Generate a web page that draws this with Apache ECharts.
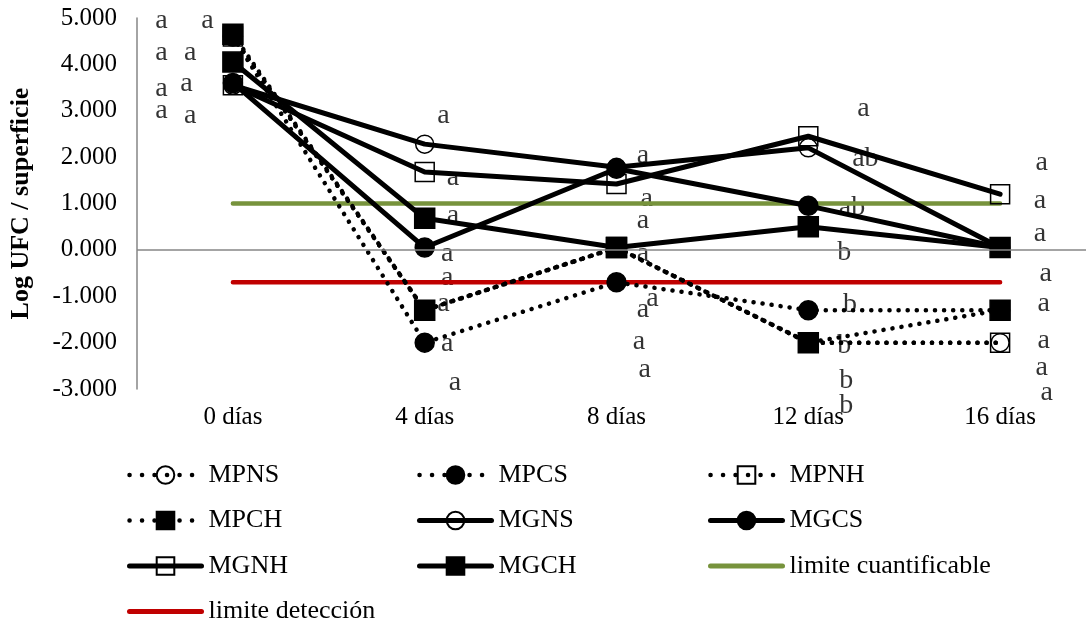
<!DOCTYPE html>
<html>
<head>
<meta charset="utf-8">
<script src="https://cdn.jsdelivr.net/npm/echarts@6/dist/echarts.min.js"></script>
<style>
  html, body { margin: 0; padding: 0; background: #fff; }
  #chart { width: 1086px; height: 625px; }
</style>
</head>
<body>
<div id="chart"></div>
<script>
// Sampling days
const days = ['0 días', '4 días', '8 días', '12 días', '16 días'];

// Log UFC / superficie per treatment
const MPNS = [4.60, -1.30, 0.05, -2.00, -2.00];
const MPCS = [4.60, -2.00, -0.70, -1.30, -1.30];
const MPNH = [4.60, -1.30, 0.05, -2.00, -2.00];
const MPCH = [4.65, -1.30, 0.05, -2.00, -1.30];
const MGNS = [3.55, 2.28, 1.78, 2.20, 0.05];
const MGCS = [3.60, 0.05, 1.75, 0.95, 0.05];
const MGNH = [3.55, 1.68, 1.42, 2.45, 1.20];
const MGCH = [4.05, 0.68, 0.05, 0.50, 0.05];

// Reference limits
const limiteCuantificable = [1, 1, 1, 1, 1];
const limiteDeteccion = [-0.7, -0.7, -0.7, -0.7, -0.7];

// Value axis range
const yMin = -3, yMax = 5, yStep = 1;

// Significance letters: [day index (fractional), log value, letter]
const letrasDia0 = [[-0.37, 4.94, 'a'], [-0.13, 4.94, 'a'], [-0.37, 4.25, 'a'], [-0.22, 4.25, 'a'],
                    [-0.37, 3.47, 'a'], [-0.24, 3.58, 'a'], [-0.37, 3.00, 'a'], [-0.22, 2.89, 'a']];
const letrasDia4 = [[1.10, 2.89, 'a'], [1.15, 1.55, 'a'], [1.15, 0.73, 'a'], [1.12, -0.09, 'a'],
                    [1.12, -0.60, 'a'], [1.10, -1.16, 'a'], [1.12, -2.03, 'a'], [1.16, -2.87, 'a']];
const letrasDia8 = [[2.14, 2.03, 'a'], [2.16, 1.10, 'a'], [2.14, 0.63, 'a'], [2.14, -0.09, 'a'],
                    [2.19, -1.06, 'a'], [2.14, -1.31, 'a'], [2.12, -2.00, 'a'], [2.15, -2.60, 'a']];
const letrasDia12 = [[3.29, 3.04, 'a'], [3.30, 1.96, 'ab'], [3.23, 0.90, 'ab'], [3.19, -0.06, 'b'],
                     [3.22, -1.20, 'b'], [3.19, -2.07, 'b'], [3.20, -2.82, 'b'], [3.20, -3.36, 'b']];
const letrasDia16 = [[4.22, 1.88, 'a'], [4.21, 1.06, 'a'], [4.21, 0.34, 'a'], [4.24, -0.52, 'a'],
                     [4.23, -1.16, 'a'], [4.23, -1.96, 'a'], [4.22, -2.56, 'a'], [4.245, -3.08, 'a']];

const FONT = 'Liberation Serif';
const HOLLOW = 'rgba(0,0,0,0)';
const DOTS = [0.1, 9];

function dotted(name, data, symbol, filled, size) {
  return {
    name, type: 'line', data, symbol, symbolSize: size,
    lineStyle: { color: '#000', width: 4.5, type: DOTS, cap: 'round' },
    itemStyle: { color: filled ? '#000' : HOLLOW, borderColor: '#000', borderWidth: 1.5 },
    emphasis: { disabled: true }
  };
}
function solid(name, data, symbol, filled, size) {
  return {
    name, type: 'line', data, symbol, symbolSize: size,
    lineStyle: { color: '#000', width: 5, cap: 'round', join: 'round' },
    itemStyle: { color: filled ? '#000' : HOLLOW, borderColor: '#000', borderWidth: 1.5 },
    emphasis: { disabled: true }
  };
}
function limit(name, data, color) {
  return {
    name, type: 'line', data, symbol: 'none', color,
    lineStyle: { color, width: 4.5, cap: 'round' },
    emphasis: { disabled: true }
  };
}

const letras = [].concat(letrasDia0, letrasDia4, letrasDia8, letrasDia12, letrasDia16);

// Legend entries: dotted ones get wider dot spacing, limits show only their line
const dotEntry = name => ({ name, lineStyle: { type: [0.1, 12.4], width: 4.5 } });
const plainLine = name => ({ name, itemStyle: { color: HOLLOW, borderColor: HOLLOW, borderWidth: 0 } });

const legendCommon = {
  orient: 'vertical', itemGap: 19.5, itemWidth: 72, itemHeight: 22, padding: 0, height: 200,
  lineStyle: { width: 5 },
  textStyle: { fontFamily: FONT, fontSize: 26, color: '#000', padding: [0, 0, 0, 2] },
  selectedMode: false
};

const chart = echarts.init(document.getElementById('chart'));
chart.setOption({
  animation: false,
  backgroundColor: '#fff',
  textStyle: { fontFamily: FONT },
  grid: { left: 137, right: -10, top: 18, bottom: 236, outerBoundsMode: 'none', containLabel: false },
  legend: [
    Object.assign({ left: 127, top: 462,
      data: [dotEntry('MPNS'), dotEntry('MPCH'), 'MGNH', plainLine('limite detección')] }, legendCommon),
    Object.assign({ left: 417, top: 462,
      data: [dotEntry('MPCS'), 'MGNS', 'MGCH'] }, legendCommon),
    Object.assign({ left: 708, top: 462,
      data: [dotEntry('MPNH'), 'MGCS', plainLine('limite cuantificable')] }, legendCommon)
  ],
  xAxis: [
    {
      type: 'category', data: days, boundaryGap: true,
      axisLine: { show: false }, axisTick: { show: false },
      axisLabel: { fontFamily: FONT, fontSize: 25, color: '#000', margin: 16 }
    },
    { type: 'value', min: -0.5, max: 4.5, show: false }
  ],
  yAxis: {
    type: 'value', min: yMin, max: yMax, interval: yStep,
    name: 'Log UFC / superficie', nameLocation: 'middle', nameGap: 103,
    nameTextStyle: { fontFamily: FONT, fontSize: 26, fontWeight: 'bold', color: '#000' },
    axisLine: { show: true, onZero: false, lineStyle: { color: '#868686', width: 1.5 } },
    axisTick: { show: false },
    splitLine: { show: false },
    axisLabel: { fontFamily: FONT, fontSize: 25, color: '#000', margin: 20,
                 formatter: v => v.toFixed(3) }
  },
  series: [
    Object.assign(limit('limite cuantificable', limiteCuantificable, '#77933C'), {
      markLine: {
        silent: true, symbol: 'none', label: { show: false },
        lineStyle: { color: '#868686', width: 1.5, type: 'solid' },
        data: [{ yAxis: 0 }]
      }
    }),
    limit('limite detección', limiteDeteccion, '#C00000'),
    dotted('MPNS', MPNS, 'circle', false, 18),
    dotted('MPCS', MPCS, 'circle', true, 19),
    dotted('MPNH', MPNH, 'rect', false, 19),
    dotted('MPCH', MPCH, 'rect', true, 20),
    solid('MGNS', MGNS, 'circle', false, 18),
    solid('MGCS', MGCS, 'circle', true, 19),
    solid('MGNH', MGNH, 'rect', false, 19),
    solid('MGCH', MGCH, 'rect', true, 20),
    {
      name: 'letras', type: 'scatter', xAxisIndex: 1, clip: false,
      data: letras, symbolSize: 1, itemStyle: { color: HOLLOW },
      emphasis: { disabled: true }, silent: true,
      label: { show: true, position: [0, 0], align: 'center', verticalAlign: 'middle',
               formatter: p => p.value[2], textBorderWidth: 0,
               fontFamily: FONT, fontSize: 28, color: '#000' }
    }
  ]
});
</script>
</body>
</html>
